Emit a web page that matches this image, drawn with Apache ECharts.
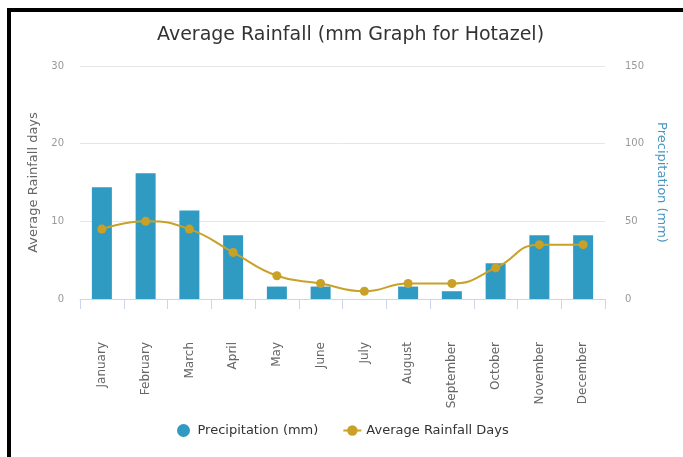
<!DOCTYPE html>
<html><head><meta charset="utf-8">
<script src="https://cdn.jsdelivr.net/npm/echarts@6/dist/echarts.min.js"></script>
<style>html,body{margin:0;padding:0;background:#fff}#c{width:683px;height:457px}</style>
</head><body><div id="c"></div>
<script>
const months = ["January","February","March","April","May","June","July","August","September","October","November","December"];
const precipitation = [72, 81, 57, 41, 8, 8, 0, 8, 5, 23, 41, 41];
const rainfallDays = [9, 10, 9, 6, 3, 2, 1, 2, 2, 4, 7, 7];
const daysTicks = [0, 30, 10];
const precipTicks = [0, 150, 50];

const chart = echarts.init(document.getElementById('c'), null, {renderer: 'canvas'});
const FONT = '"DejaVu Sans", Verdana, sans-serif';
chart.setOption({
  animation: false,
  textStyle: {fontFamily: FONT},
  title: {
    text: 'Average Rainfall (mm Graph for Hotazel)',
    left: 152, top: 21,
    textStyle: {fontSize: 19, fontWeight: 'normal', color: '#333', fontFamily: FONT}
  },
  legend: {
    bottom: 15, left: 172, itemGap: 24,
    textStyle: {fontSize: 13, color: '#333', fontFamily: FONT},
    data: [
      {name: 'Precipitation (mm)', icon: 'circle', itemStyle: {color: '#2f9bc2'}},
      {name: 'Average Rainfall Days'}
    ],
    itemWidth: 18, itemHeight: 13
  },
  grid: {left: 80, right: 78, top: 66, bottom: 158},
  xAxis: {
    type: 'category', data: months,
    axisLine: {lineStyle: {color: '#ccd6eb'}},
    axisTick: {show: true, length: 10, lineStyle: {color: '#ccd6eb'}},
    axisLabel: {rotate: 90, margin: 43, fontSize: 12, color: '#666', fontFamily: FONT}
  },
  yAxis: [
    {
      type: 'value', min: daysTicks[0], max: daysTicks[1], interval: daysTicks[2],
      name: 'Average Rainfall days', nameLocation: 'middle', nameGap: 40,
      nameTextStyle: {fontSize: 13, color: '#666', fontFamily: FONT},
      axisLabel: {fontSize: 10, color: '#999', margin: 16},
      splitLine: {lineStyle: {color: '#e6e6e6'}},
      axisLine: {show: false}, axisTick: {show: false}
    },
    {
      type: 'value', min: precipTicks[0], max: precipTicks[1], interval: precipTicks[2],
      name: 'Precipitation (mm)', nameLocation: 'middle', nameGap: 50, nameRotate: -90,
      nameTextStyle: {fontSize: 13, color: '#4a96c0', fontFamily: FONT},
      axisLabel: {fontSize: 10, color: '#999', margin: 20},
      splitLine: {show: false},
      axisLine: {show: false}, axisTick: {show: false}
    }
  ],
  series: [
    {
      name: 'Precipitation (mm)', type: 'bar', yAxisIndex: 1, data: precipitation,
      barWidth: 20, itemStyle: {color: '#2f9bc2'}
    },
    {
      name: 'Average Rainfall Days', type: 'line', yAxisIndex: 0, data: rainfallDays,
      smooth: true, symbol: 'circle', symbolSize: 9,
      lineStyle: {color: '#c9a127', width: 2}, itemStyle: {color: '#c9a127'}
    }
  ],
  graphic: [
    {type: 'rect', shape: {x: 7, y: 8, width: 676, height: 4}, style: {fill: '#000'}},
    {type: 'rect', shape: {x: 7, y: 8, width: 4, height: 449}, style: {fill: '#000'}}
  ]
});
</script></body></html>
